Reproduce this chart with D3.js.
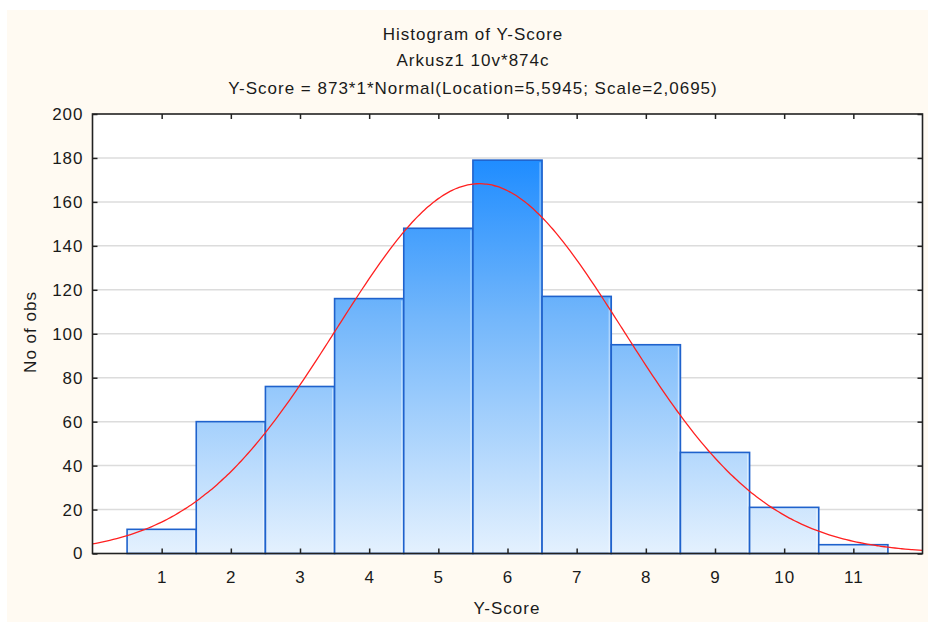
<!DOCTYPE html>
<html><head><meta charset="utf-8">
<script src="https://cdn.jsdelivr.net/npm/d3@7"></script>
<style>html,body{margin:0;padding:0;background:#fff;}svg{display:block;}</style>
</head><body>
<script>
const categories = [1,2,3,4,5,6,7,8,9,10,11];
const counts = [11,60,76,116,148,179,117,95,46,21,4];
const yTicks = [0,20,40,60,80,100,120,140,160,180,200];
const xTicks = [1,2,3,4,5,6,7,8,9,10,11];
const fitN = 873, fitLocation = 5.5945, fitScale = 2.0695, binWidth = 1;
const titles = ["Histogram of Y-Score","Arkusz1 10v*874c","Y-Score = 873*1*Normal(Location=5,5945; Scale=2,0695)"];

const W = 928, H = 623;
const L = 92.5, R = 922.5, T = 114, B = 553.5;
const svg = d3.select("body").append("svg").attr("width", W).attr("height", H);
svg.append("rect").attr("x",7).attr("y",10).attr("width",W-7).attr("height",H-11).attr("fill","#fffaf2");

const x = d3.scaleLinear().domain([0,12]).range([L,R]);
const y = d3.scaleLinear().domain([0,200]).range([B,T]);

const defs = svg.append("defs");
const grad = defs.append("linearGradient").attr("id","bg").attr("gradientUnits","userSpaceOnUse")
  .attr("x1",0).attr("x2",0).attr("y1",y(180)).attr("y2",y(0));
grad.append("stop").attr("offset","0%").attr("stop-color","#1e8cff");
grad.append("stop").attr("offset","40%").attr("stop-color","#72b6fb");
grad.append("stop").attr("offset","100%").attr("stop-color","#e4f1fe");
defs.append("clipPath").attr("id","pc").append("rect").attr("x",L).attr("y",T).attr("width",R-L).attr("height",B-T);

svg.append("rect").attr("x",L).attr("y",T).attr("width",R-L).attr("height",B-T).attr("fill","#fff");

// grid
svg.append("g").selectAll("line").data(yTicks.slice(1,-1)).join("line")
  .attr("x1",L).attr("x2",R).attr("y1",d=>y(d)).attr("y2",d=>y(d))
  .attr("stroke","#dcdcdc").attr("stroke-width",1.5);

// bars
svg.append("g").selectAll("rect").data(categories).join("rect")
  .attr("x",(d)=>x(d-binWidth/2)).attr("width",(d)=>x(d+binWidth/2)-x(d-binWidth/2))
  .attr("y",(d,i)=>y(counts[i])).attr("height",(d,i)=>y(0)-y(counts[i]))
  .attr("fill","url(#bg)").attr("stroke","#1f62cc").attr("stroke-width",1.6);
svg.append("g").selectAll("line").data(categories).join("line")
  .attr("x1",d=>x(d+binWidth/2)-2).attr("x2",d=>x(d+binWidth/2)-2)
  .attr("y1",(d,i)=>y(counts[i])+2).attr("y2",y(0))
  .attr("stroke","#ffffff").attr("stroke-opacity",0.45).attr("stroke-width",1.2);

// fitted normal curve (defined by the parameters in the chart title)
const pdf = v => fitN*binWidth*Math.exp(-0.5*((v-fitLocation)/fitScale)**2)/(fitScale*Math.sqrt(2*Math.PI));
const xs = d3.range(0, 12.001, 0.05);
svg.append("path").datum(xs).attr("clip-path","url(#pc)")
  .attr("d", d3.line().x(v=>x(v)).y(v=>y(pdf(v))).curve(d3.curveMonotoneX))
  .attr("fill","none").attr("stroke","#ff2020").attr("stroke-width",1.3);

// frame
svg.append("rect").attr("x",L).attr("y",T).attr("width",R-L).attr("height",B-T)
  .attr("fill","none").attr("stroke","#222").attr("stroke-width",1.6);

// axes with inward ticks
const font = "'Liberation Sans', Arial, sans-serif";
const FS = 17, LS = 1;
const ax = svg.append("g").attr("transform",`translate(${L},0)`)
  .call(d3.axisLeft(y).tickValues(yTicks).tickSizeInner(-5).tickSizeOuter(0).tickPadding(9));
const axR = svg.append("g").attr("transform",`translate(${R},0)`)
  .call(d3.axisRight(y).tickValues(yTicks).tickSizeInner(-5).tickSizeOuter(0).tickFormat(""));
const axB = svg.append("g").attr("transform",`translate(0,${B})`)
  .call(d3.axisBottom(x).tickValues(xTicks).tickSizeInner(-5).tickSizeOuter(0).tickPadding(17));
const axT = svg.append("g").attr("transform",`translate(0,${T})`)
  .call(d3.axisTop(x).tickValues(xTicks).tickSizeInner(-5).tickSizeOuter(0).tickFormat(""));
[ax,axR,axB,axT].forEach(g=>{
  g.select(".domain").remove();
  g.selectAll(".tick line").attr("stroke","#222").attr("stroke-width",1.5);
  g.selectAll("text").attr("font-family",font).attr("font-size",FS).attr("letter-spacing",LS).attr("fill","#1a1a1a");
});

// titles
const tys = [39.5, 66, 93.5];
svg.append("g").selectAll("text").data(titles).join("text")
  .attr("x",473).attr("y",(d,i)=>tys[i]).attr("text-anchor","middle")
  .attr("font-family",font).attr("font-size",FS).attr("letter-spacing",LS).attr("fill","#1a1a1a").text(d=>d);

svg.append("text").attr("x",507).attr("y",614).attr("text-anchor","middle")
  .attr("font-family",font).attr("font-size",FS).attr("letter-spacing",LS).attr("fill","#1a1a1a").text("Y-Score");
svg.append("text").attr("transform","translate(36,332) rotate(-90)").attr("text-anchor","middle")
  .attr("font-family",font).attr("font-size",FS).attr("letter-spacing",LS).attr("fill","#1a1a1a").text("No of obs");
</script>
</body></html>
